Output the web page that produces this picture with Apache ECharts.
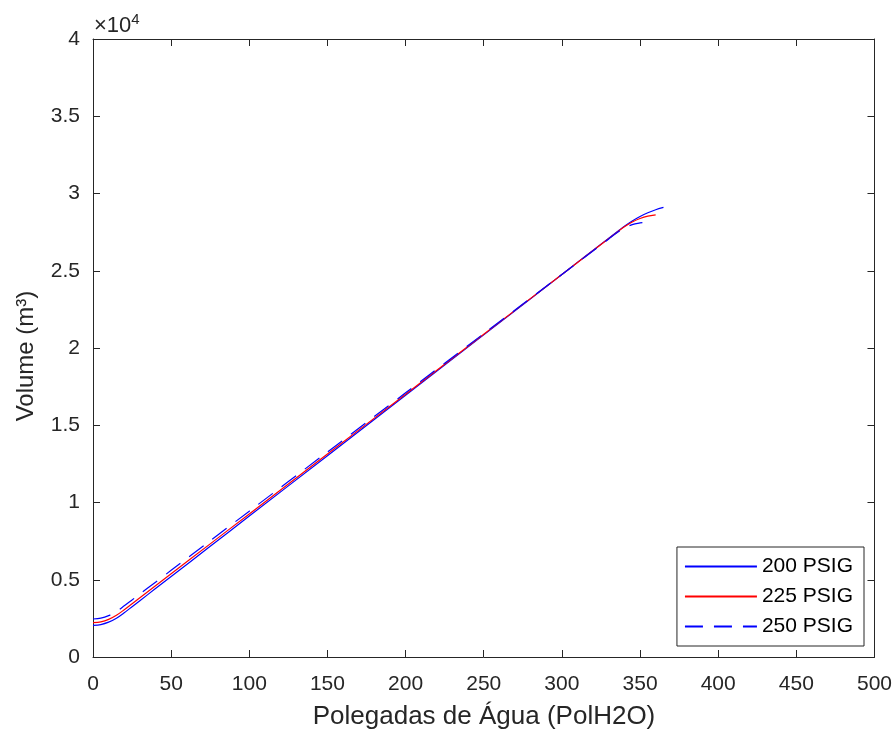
<!DOCTYPE html>
<html>
<head>
<meta charset="utf-8">
<script src="https://cdn.jsdelivr.net/npm/echarts@6/dist/echarts.min.js"></script>
<style>html,body{margin:0;padding:0;background:#fff;}#c{width:895px;height:733px;}</style>
</head>
<body>
<div id="c"></div>
<script>
// x values (PolH2O) and volume values (m³)
const x200 = [0, 5, 10, 15, 20, 25, 30, 40, 50, 75, 100, 150, 200, 250, 300, 330, 337, 340, 345, 350, 355, 360, 365];
const v200 = [2050, 2101, 2254, 2508, 2864, 3255, 3646, 4428, 5210, 7165, 9120, 13030, 16940, 20850, 24760, 27106, 27653, 27880, 28218, 28510, 28754, 28951, 29100];

const x225 = [0, 5, 10, 15, 20, 25, 30, 40, 50, 75, 100, 150, 200, 250, 300, 330, 337, 340, 345, 350, 355, 360];
const v225 = [2220, 2273, 2432, 2696, 3060, 3448, 3835, 4610, 5385, 7323, 9260, 13135, 17010, 20885, 24760, 27085, 27628, 27847, 28152, 28382, 28537, 28616];

const x250 = [0, 5, 10, 15, 20, 25, 30, 40, 50, 75, 100, 150, 200, 250, 300, 330, 335, 340, 345, 350, 351.5];
const v250 = [2460, 2514, 2675, 2944, 3311, 3694, 4077, 4843, 5609, 7524, 9439, 13269, 17099, 20929, 24759, 27057, 27440, 27769, 27988, 28099, 28110];

const seriesNames = ['200 PSIG', '225 PSIG', '250 PSIG'];
const xTicks = [0, 50, 100, 150, 200, 250, 300, 350, 400, 450, 500];
const yTickLabels = ['0', '0.5', '1', '1.5', '2', '2.5', '3', '3.5', '4'];

const zip = (xs, ys) => xs.map((x, i) => [x, ys[i]]);
const FONT = 'Liberation Sans, Arial, Helvetica, sans-serif';
const AX = '#262626';

const chart = echarts.init(document.getElementById('c'), null, {renderer: 'canvas'});
function axisCommon() {
  return {
    axisLine: {show: true, onZero: false, lineStyle: {color: AX, width: 1}},
    axisTick: {show: true, inside: true, length: 7, lineStyle: {color: AX, width: 1}},
    splitLine: {show: false}
  };
}
chart.setOption({
  animation: false,
  backgroundColor: '#fff',
  grid: {left: 93, right: 20, top: 39, bottom: 76, containLabel: false},
  xAxis: [
    Object.assign(axisCommon(), {
      type: 'value', min: 0, max: 500, interval: 50, position: 'bottom',
      axisLabel: {show: true, margin: 17, color: AX, fontSize: 21, fontFamily: FONT,
        formatter: v => xTicks.includes(v) ? String(v) : ''}
    }),
    Object.assign(axisCommon(), {
      type: 'value', min: 0, max: 500, interval: 50, position: 'top',
      axisLabel: {show: false}
    })
  ],
  yAxis: [
    Object.assign(axisCommon(), {
      type: 'value', min: 0, max: 40000, interval: 5000, position: 'left',
      axisLabel: {show: true, margin: 13, color: AX, fontSize: 21, fontFamily: FONT,
        formatter: v => yTickLabels[Math.round(v / 5000)]}
    }),
    Object.assign(axisCommon(), {
      type: 'value', min: 0, max: 40000, interval: 5000, position: 'right',
      axisLabel: {show: false}
    })
  ],
  legend: {
    orient: 'vertical', right: 31, bottom: 87,
    data: seriesNames,
    itemWidth: 72, itemHeight: 20, itemGap: 9, itemTextGap: 6,
    padding: [9, 11, 9, 7],
    itemStyle: {opacity: 0},
    borderColor: AX, borderWidth: 1, backgroundColor: '#fff',
    textStyle: {fontSize: 21, fontFamily: FONT, color: '#000'}
  },
  series: [
    {name: seriesNames[0], type: 'line', data: zip(x200, v200), symbol: 'none', smooth: 0.3,
      lineStyle: {color: '#0000ff', width: 1.2}, itemStyle: {color: '#0000ff'}},
    {name: seriesNames[1], type: 'line', data: zip(x225, v225), symbol: 'none', smooth: 0.3,
      lineStyle: {color: '#ff0000', width: 1.2}, itemStyle: {color: '#ff0000'}},
    {name: seriesNames[2], type: 'line', data: zip(x250, v250), symbol: 'none', smooth: 0.3,
      lineStyle: {color: '#0000ff', width: 1.2, type: [18, 11]}, itemStyle: {color: '#0000ff'}}
  ],
  graphic: [
    {type: 'text', x: 484, y: 717,
      style: {text: 'Polegadas de Água (PolH2O)', font: '26px ' + FONT, fill: AX, textAlign: 'center', textVerticalAlign: 'middle'}},
    {type: 'text', x: 26, y: 356, rotation: Math.PI / 2,
      style: {text: 'Volume (m³)', font: '24px ' + FONT, fill: AX, textAlign: 'center', textVerticalAlign: 'middle'}},
    {type: 'text', x: 94, y: 12,
      style: {text: '{a|×10}{b|4}', fill: AX,
        rich: {a: {fontSize: 22, fontFamily: FONT, color: AX, verticalAlign: 'bottom', lineHeight: 25},
               b: {fontSize: 15, fontFamily: FONT, color: AX, verticalAlign: 'top', lineHeight: 25}}}}
  ]
});
</script>
</body>
</html>
